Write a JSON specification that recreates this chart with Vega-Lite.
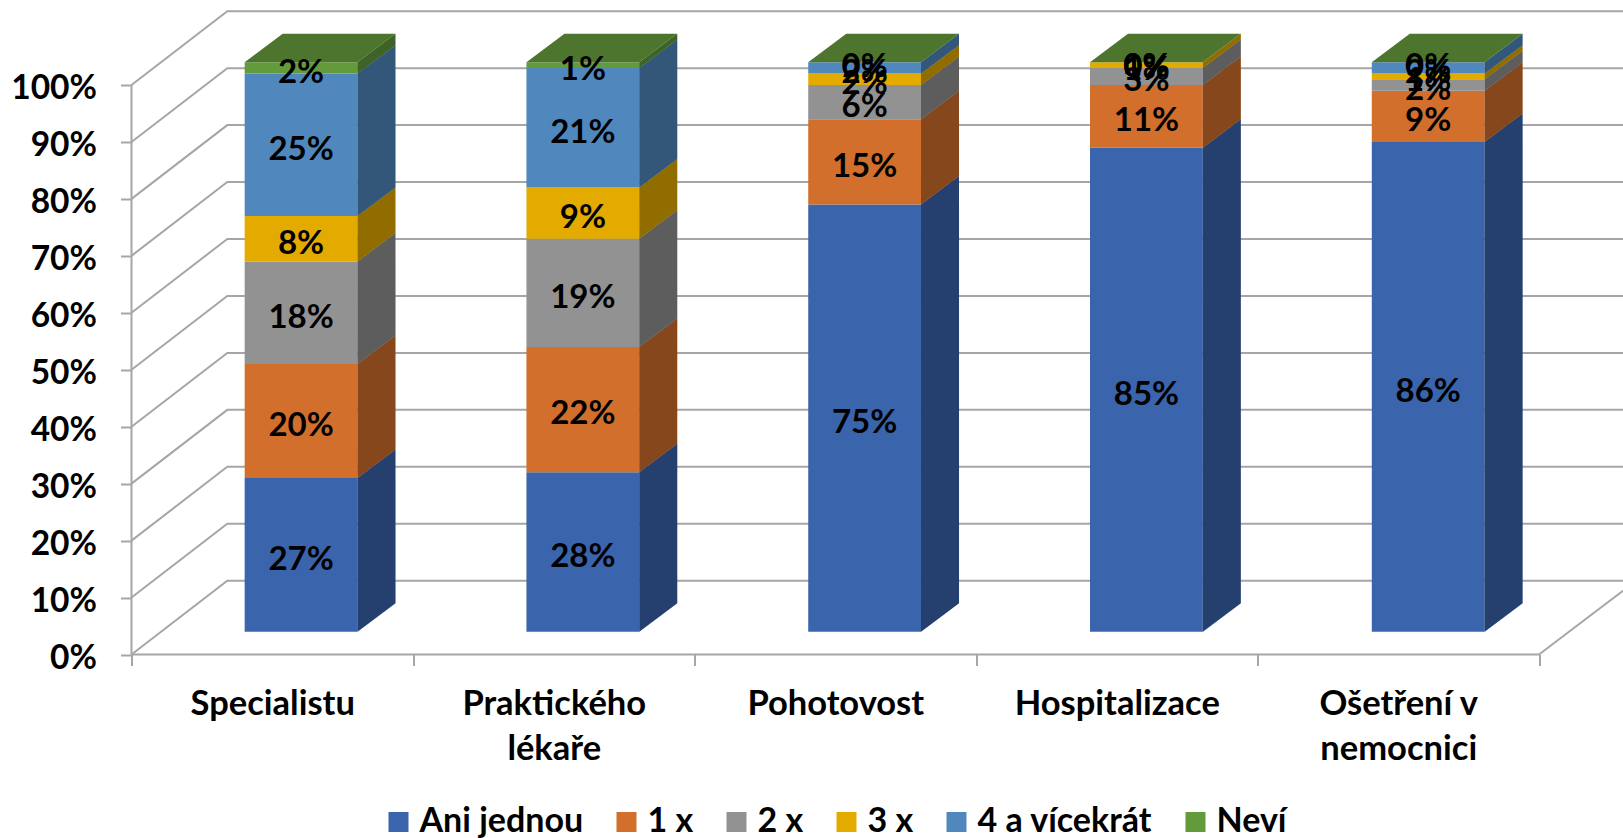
{
"$schema":"https://vega.github.io/schema/vega-lite/v6.json",
"autosize":"none",
"width":1491.5,"height":646.5,
"padding":{"left":131.5,"top":8,"right":0,"bottom":183.5},
"background":"white",
"config":{"view":{"stroke":null}},
"datasets":{
"ticks":[{"tick":0},{"tick":10},{"tick":20},{"tick":30},{"tick":40},{"tick":50},{"tick":60},{"tick":70},{"tick":80},{"tick":90},{"tick":100}],
"frame":[{"part":"wall"},{"part":"floor"},{"part":"side"}],
"segments":[
{"cat":"Specialistu","series":"Ani jednou","value":27},{"cat":"Specialistu","series":"1 x","value":20},{"cat":"Specialistu","series":"2 x","value":18},{"cat":"Specialistu","series":"3 x","value":8},{"cat":"Specialistu","series":"4 a vícekrát","value":25},{"cat":"Specialistu","series":"Neví","value":2},
{"cat":"Praktického lékaře","series":"Ani jednou","value":28},{"cat":"Praktického lékaře","series":"1 x","value":22},{"cat":"Praktického lékaře","series":"2 x","value":19},{"cat":"Praktického lékaře","series":"3 x","value":9},{"cat":"Praktického lékaře","series":"4 a vícekrát","value":21},{"cat":"Praktického lékaře","series":"Neví","value":1},
{"cat":"Pohotovost","series":"Ani jednou","value":75},{"cat":"Pohotovost","series":"1 x","value":15},{"cat":"Pohotovost","series":"2 x","value":6},{"cat":"Pohotovost","series":"3 x","value":2},{"cat":"Pohotovost","series":"4 a vícekrát","value":2},{"cat":"Pohotovost","series":"Neví","value":0},
{"cat":"Hospitalizace","series":"Ani jednou","value":85},{"cat":"Hospitalizace","series":"1 x","value":11},{"cat":"Hospitalizace","series":"2 x","value":3},{"cat":"Hospitalizace","series":"3 x","value":1},{"cat":"Hospitalizace","series":"4 a vícekrát","value":0},{"cat":"Hospitalizace","series":"Neví","value":0},
{"cat":"Ošetření v nemocnici","series":"Ani jednou","value":86},{"cat":"Ošetření v nemocnici","series":"1 x","value":9},{"cat":"Ošetření v nemocnici","series":"2 x","value":2},{"cat":"Ošetření v nemocnici","series":"3 x","value":1},{"cat":"Ošetření v nemocnici","series":"4 a vícekrát","value":2},{"cat":"Ošetření v nemocnici","series":"Neví","value":0}
]},
"layer":[
{"data":{"name":"ticks"},
 "transform":[{"calculate":"[0,0.3403,5.2984]","as":"px"},{"calculate":"[datum.tick,datum.tick+12.96,datum.tick+12.96]","as":"py"},{"flatten":["px","py"]}],
 "mark":{"type":"line","stroke":"#A6A6A6","strokeWidth":2},
 "encoding":{
  "x":{"field":"px","type":"quantitative","scale":{"domain":[0,5.2984],"nice":false,"zero":false},
   "axis":{"title":null,"values":[0,1,2,3,4,5],"grid":false,"domain":false,"tickSize":11,"tickWidth":2,"tickColor":"#A6A6A6","labelOffset":140.75,"labelPadding":21.5,"labelFont":"Lato","labelFontWeight":"bold","labelFontSize":34.5,"labelColor":"#000000","labelBaseline":"top","labelAlign":"center","labelLineHeight":45.5,"labelOverlap":false,"labelBound":false,"labelFlush":false,"labelLimit":400,
   "labelExpr":"[['Specialistu'],['Praktického','lékaře'],['Pohotovost'],['Hospitalizace'],['Ošetření v','nemocnici'],['']][datum.value]"}},
  "y":{"field":"py","type":"quantitative","scale":{"domain":[0,113.52],"nice":false,"zero":false},
   "axis":{"title":null,"values":[0,10,20,30,40,50,60,70,80,90,100],"grid":false,"domain":false,"tickSize":11,"tickWidth":2,"tickColor":"#A6A6A6","labelPadding":24,"labelOffset":3.5,"labelFont":"Lato","labelFontWeight":"bold","labelFontSize":33.5,"labelColor":"#000000","labelExpr":"datum.value+'%'","labelOverlap":false,"labelBound":false,"labelFlush":false}},
  "detail":{"field":"tick"}
 }},
{"data":{"name":"frame"},
 "transform":[{"calculate":"datum.part=='wall'?[0,0]:datum.part=='floor'?[0,5]:[5,5.2984]","as":"px"},{"calculate":"datum.part=='wall'?[0,100]:datum.part=='floor'?[0,0]:[0,11.2]","as":"py"},{"flatten":["px","py"]}],
 "mark":{"type":"line","stroke":"#A6A6A6","strokeWidth":2},
 "encoding":{
  "x":{"field":"px","type":"quantitative","title":null,"scale":{"domain":[0,5.2984],"nice":false,"zero":false}},
  "y":{"field":"py","type":"quantitative","title":null,"scale":{"domain":[0,113.52],"nice":false,"zero":false}},
  "detail":{"field":"part"}
 }},
{"data":{"name":"segments"},
 "transform":[
  {"calculate":"indexof(['Specialistu','Praktického lékaře','Pohotovost','Hospitalizace','Ošetření v nemocnici'],datum.cat)","as":"i"},
  {"calculate":"indexof(['Ani jednou','1 x','2 x','3 x','4 a vícekrát','Neví'],datum.series)","as":"o"},
  {"stack":"value","groupby":["cat"],"sort":[{"field":"o","order":"ascending"}],"as":["v0","v1"]},
  {"calculate":"datum.i*1.001+0.402","as":"xl"},
  {"calculate":"datum.xl+0.4007","as":"xr"},
  {"calculate":"datum.v0+4","as":"b0"},
  {"calculate":"datum.v1+4","as":"b1"},
  {"calculate":"datum.cat+'|'+datum.series","as":"key"}
 ],
 "layer":[
 {"mark":{"type":"rect"},
  "encoding":{
   "x":{"field":"xl","type":"quantitative","title":null,"scale":{"domain":[0,5.2984],"nice":false,"zero":false}},
   "x2":{"field":"xr"},
   "y":{"field":"b0","type":"quantitative","title":null,"scale":{"domain":[0,113.52],"nice":false,"zero":false}},
   "y2":{"field":"b1"},
   "color":{"field":"series","type":"nominal",
    "scale":{"domain":["Ani jednou","1 x","2 x","3 x","4 a vícekrát","Neví"],"range":["#3A64AC","#D26F2C","#929292","#E3AB00","#5088BE","#639A3C"]},
    "legend":{"title":null,"orient":"none","legendX":250,"legendY":797,"direction":"horizontal","columns":6,"gridAlign":"each","symbolType":"square","symbolSize":400,"symbolStrokeWidth":0,"labelOffset":4,"columnPadding":26,"labelFont":"Lato","labelFontWeight":"bold","labelFontSize":34,"labelColor":"#000000","labelLimit":400}}
  }},
 {"transform":[{"calculate":"[0,1]","as":"k"},{"flatten":["k"]},{"calculate":"datum.xr+datum.k*0.135","as":"sx"},{"calculate":"datum.b0+datum.k*5","as":"sy0"},{"calculate":"datum.b1+datum.k*5","as":"sy1"}],
  "mark":{"type":"area","interpolate":"linear"},
  "encoding":{
   "x":{"field":"sx","type":"quantitative","title":null,"scale":{"domain":[0,5.2984],"nice":false,"zero":false}},
   "y":{"field":"sy0","type":"quantitative","stack":null,"title":null,"scale":{"domain":[0,113.52],"nice":false,"zero":false}},
   "y2":{"field":"sy1"},
   "color":{"field":"series","type":"nominal"},
   "detail":{"field":"key"}
  }},
 {"transform":[{"calculate":"[0,1]","as":"k"},{"flatten":["k"]},{"calculate":"datum.xr+datum.k*0.135","as":"sx"},{"calculate":"datum.b0+datum.k*5","as":"sy0"},{"calculate":"datum.b1+datum.k*5","as":"sy1"}],
  "mark":{"type":"area","interpolate":"linear","fill":"#000000","opacity":0.36},
  "encoding":{
   "x":{"field":"sx","type":"quantitative","title":null,"scale":{"domain":[0,5.2984],"nice":false,"zero":false}},
   "y":{"field":"sy0","type":"quantitative","stack":null,"title":null,"scale":{"domain":[0,113.52],"nice":false,"zero":false}},
   "y2":{"field":"sy1"},
   "detail":{"field":"key"}
  }},
 {"transform":[{"filter":"datum.series=='Neví'"},{"calculate":"[0,1]","as":"k"},{"flatten":["k"]},{"calculate":"datum.xl+datum.k*0.135","as":"tx0"},{"calculate":"datum.xr+datum.k*0.135","as":"tx1"},{"calculate":"datum.b1+datum.k*5","as":"ty"}],
  "mark":{"type":"area","orient":"horizontal","interpolate":"linear","fill":"#4D752E"},
  "encoding":{
   "x":{"field":"tx0","type":"quantitative","stack":null,"title":null,"scale":{"domain":[0,5.2984],"nice":false,"zero":false}},
   "x2":{"field":"tx1"},
   "y":{"field":"ty","type":"quantitative","title":null,"scale":{"domain":[0,113.52],"nice":false,"zero":false}},
   "detail":{"field":"cat"}
  }},
 {"transform":[{"calculate":"datum.xl+0.2003","as":"tx"},{"calculate":"(datum.b0+datum.b1)/2-0.85","as":"ty"},{"calculate":"format(datum.value,'.0f')+'%'","as":"lab"}],
  "mark":{"type":"text","font":"Lato","fontWeight":"bold","fontSize":33,"color":"#000000","baseline":"middle","align":"center"},
  "encoding":{
   "x":{"field":"tx","type":"quantitative","title":null,"scale":{"domain":[0,5.2984],"nice":false,"zero":false}},
   "y":{"field":"ty","type":"quantitative","title":null,"scale":{"domain":[0,113.52],"nice":false,"zero":false}},
   "text":{"field":"lab","type":"nominal"}
  }}
 ]}
]
}
